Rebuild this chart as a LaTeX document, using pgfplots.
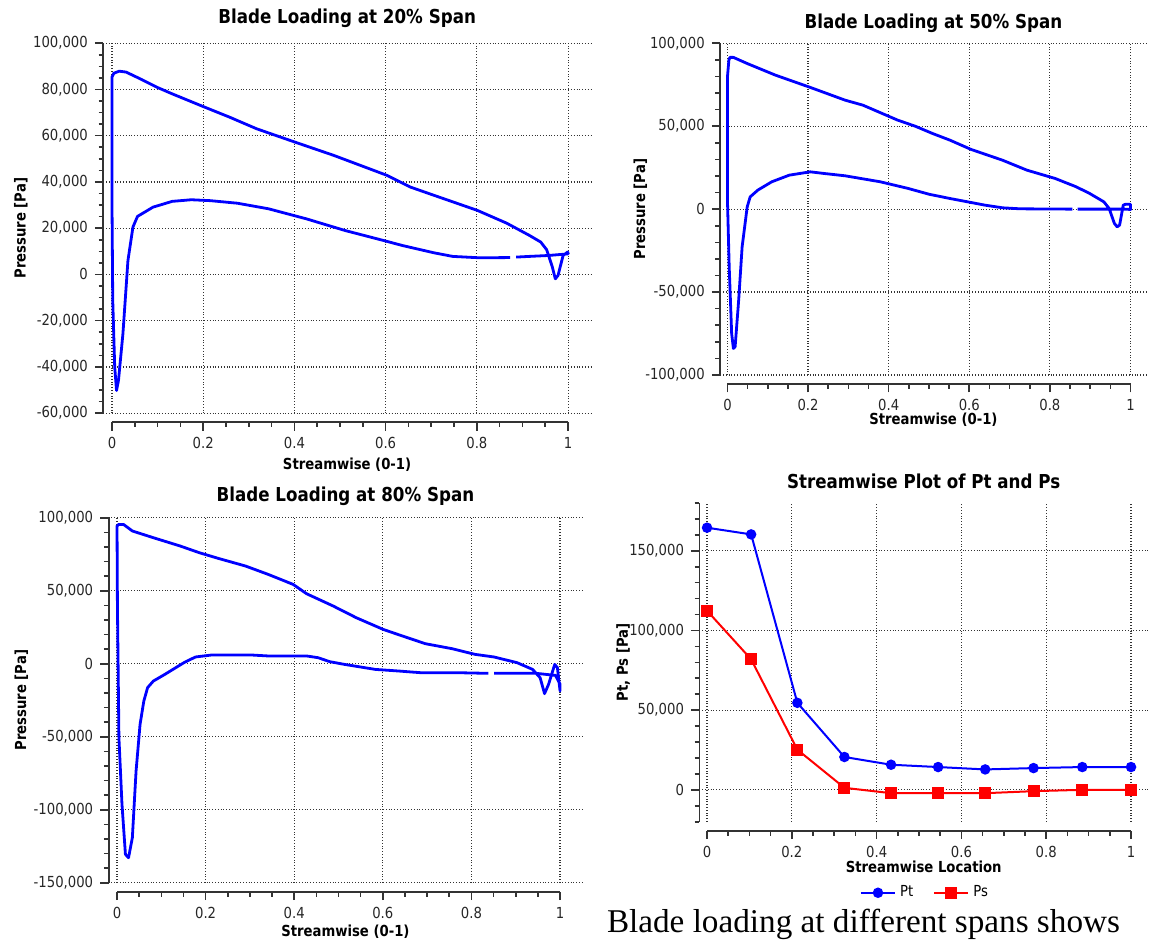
\documentclass[border=0pt]{standalone}
\usepackage{fontspec}
\setmainfont{DejaVu Sans}[FakeStretch=0.87]
\newfontfamily\capfont{Liberation Serif}
\usepackage{pgfplots}
\pgfplotsset{compat=1.18}
\definecolor{cfxblue}{RGB}{0,0,255}
\definecolor{cfxred}{RGB}{255,0,0}
\pgfplotsset{
  cfx/.style={
    scale only axis,
    anchor=south west,
    axis lines=left,
    axis line style={-, black!80, line width=0.9pt},
    axis x line shift=4.5pt,
    tick align=outside,
    major tick length=4.2pt,
    minor tick length=2.4pt,
    tick style={black!80, line width=0.8pt},
    grid=major,
    grid style={densely dotted, black!80, line width=0.6pt},
    scaled ticks=false,
    tick label style={font=\fontsize{7.6}{9}\selectfont, text=black!85},
    label style={font=\bfseries\fontsize{7.6}{9}\selectfont},
    title style={font=\bfseries\fontsize{9.6}{11}\selectfont, at={(0.5,1)}, anchor=base},
    xtick={0,0.2,0.4,0.6,0.8,1},
    xticklabels={0,0.2,0.4,0.6,0.8,1},
    minor x tick num=3,
    clip=false,
  },
  bl/.style={cfxblue, line width=1.4pt, no markers, line join=round},
}
\begin{document}
\begin{tikzpicture}
\useasboundingbox (0,0) rectangle (574.5pt,471pt);
% ---------------- Panel 1 ----------------
\begin{axis}[cfx,
  at={(51.65pt,264.4pt)}, width=243.8pt, height=185pt,
  xmin=-0.019, xmax=1.05, ymin=-60000, ymax=100000,
  x axis line style={shorten <=4.33pt, shorten >=11.4pt},
  ytick={-60000,-40000,-20000,0,20000,40000,60000,80000,100000},
  yticklabels={{-60,000},{-40,000},{-20,000},{0},{20,000},{40,000},{60,000},{80,000},{100,000}},
  minor y tick num=3,
  title={Blade Loading at 20\% Span}, title style={yshift=4pt},
  xlabel={Streamwise (0-1)}, ylabel={Pressure [Pa]},
  xlabel style={at={(axis description cs:0.5,-0.139)}, anchor=center},
  ylabel style={at={(axis description cs:-0.169,0.5)}, anchor=center},
]
\addplot[bl] coordinates {
(0.873,7300) (0.806,7200) (0.747,7800) (0.705,9400) (0.637,12500) (0.595,14700)
(0.511,19000) (0.427,24000) (0.343,28400) (0.275,30800) (0.216,31900) (0.174,32300)
(0.132,31600) (0.090,29100) (0.056,25100) (0.046,20500) (0.035,6000) (0.024,-25700)
(0.0143,-45800) (0.010,-50200) (0.006,-40000) (0.0017,-11200) (0.000,32000) (0.000,85300)
(0.004,87000) (0.016,87900) (0.031,87500) (0.065,84300) (0.098,81000) (0.132,78100)
(0.200,72600) (0.258,68000) (0.317,63000) (0.4015,57200) (0.486,51500) (0.6035,42800)
(0.654,37800) (0.696,34900) (0.801,27700) (0.865,22200) (0.915,16900) (0.940,14000)
(0.953,10700) (0.9655,3200) (0.972,-1900) (0.978,-400) (0.989,8200) (0.999,9700)
(1.000,9200) (1.000,8900) (0.957,8200) (0.915,7800) (0.886,7500)
};
\end{axis}
% ---------------- Panel 2 ----------------
\begin{axis}[cfx,
  at={(360.1pt,283.5pt)}, width=213.2pt, height=165.85pt,
  xmin=-0.018, xmax=1.04, ymin=-100000, ymax=100000,
  x axis line style={shorten <=3.63pt, shorten >=8.06pt},
  ytick={-100000,-50000,0,50000,100000},
  yticklabels={{-100,000},{-50,000},{0},{50,000},{100,000}},
  minor y tick num=4,
  title={Blade Loading at 50\% Span}, title style={yshift=1.5pt},
  xlabel={Streamwise (0-1)}, ylabel={Pressure [Pa]},
  xlabel style={at={(axis description cs:0.5,-0.136)}, anchor=center},
  ylabel style={at={(axis description cs:-0.187,0.5)}, anchor=center},
]
\addplot[bl] coordinates {
(0.856,0) (0.726,200) (0.683,800) (0.639,2400) (0.596,4400) (0.5525,6400) (0.500,9000)
(0.448,12500) (0.379,16500) (0.292,20100) (0.240,21500) (0.2055,22500) (0.1535,20500)
(0.110,16500) (0.0755,11500) (0.0564,7400) (0.049,1400) (0.0364,-22700) (0.0278,-54900)
(0.019,-83000) (0.0147,-84000) (0.0104,-75000) (0.0043,-34800) (0.000,5400) (0.000,79800)
(0.0035,89800) (0.006,91500) (0.0147,91500) (0.049,87800) (0.119,80800) (0.2055,73400)
(0.292,65700) (0.336,62700) (0.422,53700) (0.466,50000) (0.509,45600) (0.552,41600)
(0.6045,36000) (0.6826,29500) (0.743,23500) (0.813,18500) (0.865,13500) (0.899,9400)
(0.934,4400) (0.947,400) (0.960,-8600) (0.967,-10700) (0.973,-9600) (0.982,2400)
(0.988,3000) (1.000,3000) (1.000,-200) (0.986,0) (0.869,0)
};
\end{axis}
% ---------------- Panel 3 ----------------
\begin{axis}[cfx,
  at={(54.3pt,29.65pt)}, width=236.8pt, height=182.5pt,
  xmin=-0.019, xmax=1.05, ymin=-150000, ymax=100000,
  x axis line style={shorten <=4.21pt, shorten >=11.08pt},
  ytick={-150000,-100000,-50000,0,50000,100000},
  yticklabels={{-150,000},{-100,000},{-50,000},{0},{50,000},{100,000}},
  minor y tick num=4,
  title={Blade Loading at 80\% Span}, title style={yshift=2.3pt},
  xlabel={Streamwise (0-1)}, ylabel={Pressure [Pa]},
  xlabel style={at={(axis description cs:0.5,-0.134)}, anchor=center},
  ylabel style={at={(axis description cs:-0.184,0.5)}, anchor=center},
]
\addplot[bl] coordinates {
(0.838,-6600) (0.7736,-6200) (0.687,-6200) (0.635,-5000) (0.583,-3900) (0.514,-500)
(0.480,1400) (0.454,4100) (0.428,5300) (0.341,5300) (0.307,5900) (0.212,5900)
(0.177,4600) (0.151,700) (0.108,-7300) (0.082,-11900) (0.069,-16400) (0.0605,-25600)
(0.052,-41600) (0.043,-73500) (0.0346,-119200) (0.026,-132900) (0.019,-130600)
(0.0112,-96300) (0.0043,-50700) (0.0009,40600) (0.000,94300) (0.004,95400)
(0.0147,95400) (0.0346,90900) (0.082,86300) (0.1426,80600) (0.186,76000) (0.229,72100)
(0.290,66900) (0.341,61200) (0.3976,54300) (0.428,47900) (0.488,39500) (0.540,31500)
(0.6007,23500) (0.644,19000) (0.696,13700) (0.756,10300) (0.808,6400) (0.851,4600)
(0.903,700) (0.938,-3900) (0.955,-9600) (0.965,-20500) (0.974,-14200) (0.988,-500)
(0.994,-2700) (1.000,-18700) (1.000,-14000) (0.9896,-8000) (0.946,-6600) (0.851,-6600)
};
\end{axis}
% ---------------- Panel 4 ----------------
\begin{axis}[cfx,
  at={(349.7pt,60.15pt)}, width=224.3pt, height=159.35pt,
  xmin=-0.018, xmax=1.04, ymin=-20000, ymax=180000,
  x axis line style={shorten <=3.82pt, shorten >=8.48pt},
  ytick={0,50000,100000,150000},
  yticklabels={{0},{50,000},{100,000},{150,000}},
  minor ytick={-20000,-10000,...,180000},
  title={Streamwise Plot of Pt and Ps}, title style={yshift=1.3pt},
  xlabel={Streamwise Location}, ylabel={Pt, Ps [Pa]},
  xlabel style={at={(axis description cs:0.5,-0.142)}, anchor=center},
  ylabel style={at={(axis description cs:-0.170,0.5)}, anchor=center},
  legend columns=2,
  legend style={at={(0.505,-0.223)}, anchor=center, draw=none, fill=none,
    font=\fontsize{7.6}{9}\selectfont,
    /tikz/every even column/.append style={column sep=8pt}},
]
\addplot[cfxblue, line width=1pt, mark=*, mark size=2.1pt] coordinates {
(0,164500) (0.104,160300) (0.213,54600) (0.324,20600) (0.434,15750)
(0.545,14300) (0.656,12800) (0.770,13650) (0.885,14300) (1.0,14300)
};
\addlegendentry{Pt}
\addplot[cfxred, line width=1pt, mark=square*, mark size=2.5pt] coordinates {
(0,112400) (0.104,81900) (0.213,25200) (0.324,1260) (0.434,-2100)
(0.545,-2100) (0.656,-2100) (0.770,-840) (0.885,0) (1.0,0)
};
\addlegendentry{Ps}
\end{axis}
\node[anchor=base west, inner sep=0pt, font=\capfont\fontsize{16.6}{19}\selectfont]
  at (303.3pt,4.85pt) {Blade loading at different spans shows};
\end{tikzpicture}
\end{document}
